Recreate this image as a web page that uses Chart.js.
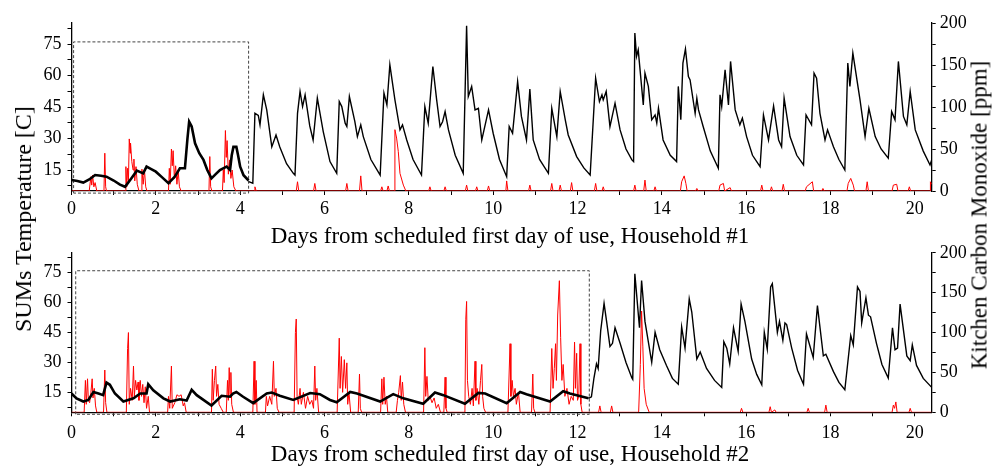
<!DOCTYPE html>
<html>
<head>
<meta charset="utf-8">
<script src="https://cdn.jsdelivr.net/npm/chart.js@4.4.0/dist/chart.umd.min.js"></script>
<style>
  html, body { margin: 0; padding: 0; background: #fff; }
  #wrap { position: relative; width: 995px; height: 466px; overflow: hidden;
          font-family: "Liberation Serif", "Times New Roman", serif; color: #000; }
  #topChart { position: absolute; left: 0; top: 0; }
  #botChart { position: absolute; left: 0; top: 236px; }
  .title { position: absolute; font-size: 23px; line-height: 1; white-space: nowrap; }
  .xtitle { transform: translate(-50%, -50%); }
  .ytitle { transform: translate(-50%, -50%) rotate(-90deg); }
</style>
</head>
<body>
<div id="wrap">
  <canvas id="topChart" width="995" height="248"></canvas>
  <canvas id="botChart" width="995" height="230"></canvas>
  <div class="title xtitle" style="left:510px; top:235px;">Days from scheduled first day of use, Household #1</div>
  <div class="title xtitle" style="left:510px; top:453px;">Days from scheduled first day of use, Household #2</div>
  <div class="title ytitle" style="left:23px; top:219px; font-size:24px;">SUMs Temperature [C]</div>
  <div class="title ytitle" style="left:979px; top:215px;">Kitchen Carbon Monoxide [ppm]</div>
</div>
<script>
"use strict";

// Axis ticks
const dayTicks = [0, 1, 2, 3, 4, 5, 6, 7, 8, 9, 10, 11, 12, 13, 14, 15, 16, 17, 18, 19, 20];
const tempTicks = [7.5, 15, 22.5, 30, 37.5, 45, 52.5, 60, 67.5, 75, 82.5];
const coTicks = [0, 25, 50, 75, 100, 125, 150, 175, 200];

// Period before the scheduled first use (dashed boxes)
const h1BoxDays = [0.05, 4.2];
const h2BoxDays = [0.1, 12.28];
const boxTemp = [4, 76];

// Household #1 - SUMs temperature, before first use (thick)
const h1PreDays = [0, 0.14, 0.28, 0.42, 0.56, 0.7, 0.83, 1.0, 1.15, 1.27, 1.4, 1.55, 1.7, 1.78, 1.88, 2.0,
  2.15, 2.3, 2.45, 2.57, 2.69, 2.75, 2.79, 2.85, 2.93, 3.03, 3.13, 3.22, 3.32, 3.42, 3.52, 3.68, 3.76,
  3.8, 3.84, 3.91, 3.95, 4.0, 4.08, 4.2];
const h1PreTemp = [10.2, 9.8, 9, 10.5, 12.6, 12.3, 11.8, 10, 8, 7, 10.5, 14.7, 13.4, 16.6, 15.5, 14.2,
  11.5, 8.7, 11.8, 15.8, 15.8, 30, 38, 35.7, 27.7, 23, 19.8, 15, 11, 13, 15, 16.6, 15,
  22, 26, 26, 22, 16.6, 12.5, 10];

// Household #1 - SUMs temperature, after first use
const h1UseDays = [4.2, 4.3, 4.35, 4.43, 4.47, 4.55, 4.63, 4.75, 4.85, 4.94, 5.1, 5.26, 5.3, 5.36, 5.42, 5.48,
  5.54, 5.65, 5.73, 5.83, 5.97, 6.13, 6.29, 6.35, 6.41, 6.49, 6.53, 6.59, 6.72, 6.78, 6.86, 6.92, 7.1,
  7.32, 7.41, 7.48, 7.55, 7.67, 7.79, 7.85, 7.95, 8.1, 8.3, 8.38, 8.46, 8.57, 8.66, 8.74, 8.8, 8.86,
  8.94, 9.1, 9.29, 9.37, 9.41, 9.49, 9.57, 9.65, 9.73, 9.89, 10.0, 10.15, 10.32, 10.38, 10.46, 10.58,
  10.67, 10.79, 10.87, 10.95, 11.1, 11.31, 11.39, 11.51, 11.59, 11.71, 11.78, 11.98, 12.15, 12.3,
  12.43, 12.52, 12.58, 12.61, 12.68, 12.77, 12.89, 13.01, 13.15, 13.29, 13.33, 13.36, 13.4, 13.44,
  13.56, 13.6, 13.68, 13.76, 13.84, 13.88, 13.92, 14.03, 14.2, 14.35, 14.39, 14.45, 14.5, 14.56,
  14.63, 14.67, 14.79, 14.83, 14.87, 14.98, 15.15, 15.34, 15.38, 15.42, 15.5, 15.58, 15.63, 15.74,
  15.85, 15.91, 16.01, 16.15, 16.33, 16.41, 16.53, 16.65, 16.77, 16.84, 16.9, 17.04, 17.2, 17.36,
  17.42, 17.55, 17.61, 17.67, 17.75, 17.87, 17.93, 18.07, 18.2, 18.34, 18.41, 18.46, 18.53, 18.7,
  18.82, 18.91, 19.06, 19.2, 19.37, 19.45, 19.53, 19.61, 19.73, 19.81, 19.89, 20.01, 20.2, 20.36, 20.4];
const h1UseTemp = [9.5, 8.7, 42, 41, 36.5, 50.8, 43.6, 26, 31.7, 26, 18, 13.4, 12.6, 42, 52.4, 45.2,
  50.8, 36, 29.3, 49.2, 33.3, 19, 13.4, 47.6, 45.2, 37.3, 35.7, 50, 38, 30.9, 36.5, 30.9, 20,
  12.6, 51.6, 46, 65.1, 48.4, 34.1, 36.5, 29.3, 20, 12.6, 45.2, 37.3, 64.3, 48.4, 35.7, 38, 42.8,
  34.1, 22, 13.4, 83.7, 50, 54.8, 43.6, 44.4, 29.3, 43.6, 32.5, 20, 11.8, 35.7, 32.5, 57.1,
  40.5, 29.3, 53.5, 29.3, 20, 13.4, 44.4, 30.9, 52.4, 38.9, 31.7, 21.4, 16, 12.6,
  58.7, 47.6, 50.8, 48.4, 52.4, 35.7, 46.8, 34.1, 25, 19.8, 19, 80.2, 69.1, 72.2,
  46, 61.1, 54.8, 38.9, 41.2, 37.3, 44.4, 29.3, 22, 19, 54.8, 38.9, 65.9, 72.6,
  59.5, 57.9, 42, 49.2, 43.6, 35.7, 24, 15.8, 50.8, 45.2, 62.7, 46, 66.7, 43.6,
  36.5, 39.7, 30.9, 22, 16.6, 41.2, 29.3, 45.5, 29.3, 26.1, 49.2, 30.9, 22, 17.4,
  41.2, 36.5, 61.1, 58.7, 42, 29.3, 34.1, 26.1, 20, 15, 65.9, 54.8, 70.7, 48.4,
  30.9, 44.4, 30.9, 25, 20.6, 42.8, 38.9, 66.7, 40.5, 36.5, 52.4, 34.1, 24, 17.4, 19.8];

// Household #1 - kitchen CO [ppm]
const h1CoDays = [0, 0.42, 0.46, 0.48, 0.5, 0.53, 0.56, 0.6, 0.77, 0.79, 0.81, 0.83, 1.27, 1.29, 1.31,
  1.33, 1.35, 1.37, 1.39, 1.4, 1.43, 1.46, 1.48, 1.5, 1.53, 1.56, 1.6, 1.65, 1.67, 1.7, 1.73, 1.76, 1.79,
  2.3, 2.32, 2.34, 2.37, 2.39, 2.41, 2.44, 2.47, 2.5, 2.53, 2.56, 2.6, 3.26, 3.28, 3.3, 3.33, 3.58, 3.6,
  3.62, 3.65, 3.67, 3.69, 3.72, 3.75, 3.78, 3.81, 3.85, 3.9, 4.33, 4.35, 4.38, 5.33, 5.36, 5.39,
  5.74, 5.77, 5.8, 6.5, 6.53, 6.56, 6.83, 6.86, 6.89, 7.33, 7.36, 7.39, 7.48, 7.51, 7.54, 7.65, 7.67,
  7.71, 7.75, 7.79, 7.87, 7.93, 8.47, 8.5, 8.53, 8.83, 8.86, 8.89, 9.34, 9.37, 9.4, 9.58, 9.61, 9.64,
  9.86, 9.89, 9.92, 10.3, 10.32, 10.35, 10.84, 10.87, 10.9, 11.36, 11.39, 11.42, 11.56, 11.59, 11.62,
  11.83, 11.86, 11.89, 12.4, 12.43, 12.46, 12.58, 12.61, 12.64, 13.33, 13.36, 13.39, 13.57, 13.6,
  13.63, 13.81, 13.84, 13.87, 14.44, 14.47, 14.53, 14.57, 14.6, 14.8, 14.83, 14.86, 15.35, 15.38,
  15.46, 15.49, 15.62, 15.65, 16.34, 16.37, 16.4, 16.57, 16.6, 16.63, 16.85, 16.88, 16.91, 17.4,
  17.43, 17.57, 17.6, 17.79, 17.82, 17.85, 18.39, 18.42, 18.48, 18.54, 18.57, 18.84, 18.87, 18.9,
  19.46, 19.49, 19.57, 19.6, 19.84, 19.87, 19.9, 20.36, 20.37, 20.4];
const h1CoVals = [0, 0, 17, 7, 19, 5, 10, 0, 0, 45, 5, 0, 0, 29, 5,
  27, 12, 62, 45, 57, 35, 25, 38, 12, 29, 8, 0, 0, 26, 8, 25, 5, 0,
  0, 27, 8, 50, 30, 48, 15, 30, 8, 24, 5, 0, 0, 41, 5, 0, 0, 25,
  10, 72, 40, 60, 20, 37, 15, 25, 5, 0, 0, 5, 0, 0, 11, 0,
  0, 9, 0, 0, 9, 0, 0, 18, 0, 0, 5, 0, 0, 6, 0, 0, 73,
  63, 47, 21, 7, 0, 0, 5, 0, 0, 5, 0, 0, 7, 0, 0, 5, 0,
  0, 6, 0, 0, 12, 0, 0, 7, 0, 0, 9, 0, 0, 7, 0,
  0, 10, 0, 0, 9, 0, 0, 5, 0, 0, 7, 0, 0, 13,
  0, 0, 5, 0, 0, 11, 18, 9, 0, 0, 3, 0, 0, 7,
  9, 0, 4, 0, 0, 7, 0, 0, 5, 0, 0, 8, 0, 0,
  5, 11, 0, 0, 3, 0, 0, 9, 15, 7, 0, 0, 11, 0,
  0, 7, 8, 0, 0, 5, 0, 0, 11, 8];

// Household #2 - SUMs temperature, before first use (thick)
const h2PreDays = [0, 0.12, 0.28, 0.4, 0.52, 0.64, 0.75, 0.83, 0.91, 1.03, 1.23, 1.47, 1.63, 1.78, 1.82,
  1.94, 2.18, 2.34, 2.57, 2.73, 2.85, 2.97, 3.32, 3.56, 3.76, 3.83, 3.91, 4.07, 4.31, 4.63, 4.75, 4.94,
  5.26, 5.66, 5.89, 6.13, 6.29, 6.61, 6.77, 7.32, 7.63, 7.87, 8.34, 8.62, 8.82, 9.33, 9.65, 9.81,
  10.32, 10.64, 10.79, 11.35, 11.66, 11.82, 12.26];
const h2PreTemp = [14.4, 12, 10.4, 11.2, 15.2, 14.4, 13.6, 19.9, 18.8, 14.4, 10.4, 12, 14.4, 14.4, 19.1,
  16, 12, 10.4, 11.5, 10.9, 16.3, 13.6, 8.4, 13.3, 12.8, 14.4, 15.2, 12.8, 9.6, 14.4, 14.9, 13.3,
  11.2, 14.7, 14.1, 11.2, 10, 15.2, 14.4, 10.4, 14.1, 12, 9.3, 14.9, 13.6, 9.3, 14.7, 14.4,
  9.6, 15.2, 14.1, 10.4, 15.6, 14.4, 12];

// Household #2 - SUMs temperature, after first use
const h2UseDays = [12.26, 12.33, 12.39, 12.45, 12.49, 12.55, 12.63, 12.69, 12.77, 12.83, 12.89, 13.01,
  13.15, 13.29, 13.31, 13.36, 13.47, 13.52, 13.6, 13.76, 13.84, 13.95, 14.11, 14.25, 14.39, 14.47,
  14.55, 14.65, 14.71, 14.83, 14.91, 15.06, 15.25, 15.42, 15.47, 15.54, 15.61, 15.7, 15.81, 15.88,
  15.97, 16.13, 16.25, 16.37, 16.43, 16.5, 16.58, 16.62, 16.74, 16.79, 16.87, 16.92, 16.96, 17.08,
  17.22, 17.36, 17.43, 17.59, 17.69, 17.83, 17.89, 18.07, 18.2, 18.34, 18.48, 18.54, 18.64, 18.7,
  18.74, 18.84, 18.9, 18.95, 19.09, 19.22, 19.37, 19.47, 19.53, 19.59, 19.65, 19.81, 19.89, 19.94,
  20.04, 20.2, 20.4];
const h2UseTemp = [12, 12.8, 22.2, 29.3, 26.9, 45.9, 59.6, 50.6, 38, 39.6, 47.4, 39.6,
  30, 22.2, 21.5, 74.5, 47.4, 71.1, 50.6, 30.1, 45.1, 36.4, 28.5, 22, 19.1, 47.8,
  37.2, 61.9, 55.3, 31.7, 35.2, 27, 21, 17.5, 40.4, 37.2, 29.3, 47.4, 35.6, 59.3,
  50.6, 31.7, 24, 18.8, 45.1, 36.7, 67.9, 69.5, 45.1, 50.6, 41.1, 49.8, 49, 37.2,
  26, 19.1, 44.3, 32.5, 58.5, 33.3, 34.1, 25.4, 20, 16.3, 43.5, 38.8, 67.9, 65.6,
  49.8, 62.4, 53.7, 52.9, 39.6, 29, 22.2, 47.4, 36.4, 37.2, 59.3, 33.3, 30.9, 38.8,
  28.5, 22, 17.5];

// Household #2 - kitchen CO [ppm]
const h2CoDays = [0, 0.3, 0.33, 0.35, 0.38, 0.4, 0.43, 0.46, 0.49, 0.51, 0.54, 0.57, 0.6, 0.76, 0.79, 0.81,
  0.84, 1.3, 1.33, 1.35, 1.37, 1.4, 1.44, 1.47, 1.49, 1.52, 1.55, 1.58, 1.6, 1.63, 1.66, 1.69, 1.72,
  1.75, 1.78, 1.82, 1.85, 2.28, 2.3, 2.33, 2.37, 2.39, 2.45, 2.5, 2.55, 2.6, 2.65, 2.68, 2.72, 3.32,
  3.34, 3.36, 3.39, 3.42, 3.44, 3.47, 3.5, 3.55, 3.6, 3.67, 3.7, 3.72, 3.74, 3.76, 3.78, 3.8, 3.84,
  4.3, 4.33, 4.35, 4.38, 4.4, 4.6, 4.62, 4.65, 4.7, 4.75, 4.79, 4.81, 4.85, 4.88, 4.92, 5.28, 5.31,
  5.33, 5.35, 5.38, 5.42, 5.45, 5.5, 5.55, 5.6, 5.65, 5.7, 5.74, 5.77, 5.79, 5.82, 5.86, 6.3, 6.35,
  6.37, 6.4, 6.43, 6.47, 6.5, 6.53, 6.55, 6.58, 6.62, 6.8, 6.83, 6.85, 6.88, 7.33, 7.36, 7.38, 7.41,
  7.44, 7.47, 7.5, 7.7, 7.73, 7.76, 7.8, 7.82, 7.85, 7.88, 7.92, 8.35, 8.38, 8.4, 8.43, 8.46, 8.5,
  8.55, 8.6, 8.65, 8.7, 8.75, 8.83, 8.86, 8.88, 8.91, 9.33, 9.35, 9.37, 9.39, 9.42, 9.46, 9.5, 9.53,
  9.57, 9.59, 9.62, 9.66, 9.7, 9.73, 9.75, 9.78, 9.82, 10.35, 10.4, 10.42, 10.45, 10.48, 10.52, 10.55,
  10.6, 10.64, 10.91, 10.94, 10.96, 10.99, 11.35, 11.39, 11.42, 11.45, 11.48, 11.5, 11.53, 11.57,
  11.6, 11.63, 11.66, 11.7, 11.75, 11.8, 11.85, 11.9, 11.93, 11.95, 11.98, 12.0, 12.03, 12.06, 12.08,
  12.11, 12.5, 12.53, 12.56, 12.78, 12.81, 12.84, 13.45, 13.49, 13.52, 13.55, 13.58, 13.63, 13.7,
  15.86, 15.89, 15.92, 16.54, 16.57, 16.6, 16.68, 16.71, 17.44, 17.47, 17.5, 17.86, 17.89, 17.92,
  19.46, 19.49, 19.52, 19.55, 19.58, 19.86, 19.89, 19.92, 20.4];
const h2CoVals = [0, 0, 40, 10, 42, 15, 12, 25, 42, 18, 30, 8, 0, 0, 53, 12,
  0, 0, 80, 100, 10, 30, 15, 58, 20, 40, 28, 38, 15, 40, 20, 35, 12,
  32, 5, 20, 0, 0, 20, 5, 58, 5, 12, 22, 20, 22, 8, 12, 0, 0,
  54, 15, 40, 58, 20, 35, 10, 5, 0, 0, 40, 15, 56, 20, 50, 10, 0,
  0, 64, 10, 40, 0, 0, 20, 8, 20, 10, 64, 20, 30, 5, 0, 0, 100,
  117, 20, 10, 30, 10, 25, 5, 20, 10, 15, 5, 58, 15, 30, 0, 0, 93,
  30, 70, 25, 66, 30, 62, 10, 25, 0, 0, 48, 5, 0, 0, 42, 10, 44,
  10, 20, 0, 0, 15, 25, 46, 15, 38, 10, 0, 0, 81, 20, 45, 15, 20,
  12, 18, 5, 10, 0, 0, 44, 5, 0, 0, 116, 139, 40, 20, 10, 30, 8,
  64, 15, 30, 10, 40, 60, 20, 5, 0, 0, 86, 20, 40, 20, 30, 10,
  25, 0, 0, 48, 5, 0, 0, 80, 30, 55, 86, 40, 122, 165,
  94, 40, 60, 20, 30, 10, 20, 15, 88, 30, 74, 15, 20, 86, 10,
  0, 0, 8, 0, 0, 8, 0, 0, 60, 127, 82, 30, 10, 0,
  0, 5, 0, 0, 7, 0, 3, 0, 0, 5, 0, 0, 9, 0,
  0, 9, 5, 13, 0, 0, 5, 0, 0];

const serif = "'Liberation Serif', 'Times New Roman', serif";

function pts(days, vals) {
  return days.map((d, i) => ({ x: d, y: vals[i] }));
}

function boxPts(days) {
  return [
    { x: days[0], y: boxTemp[0] }, { x: days[0], y: boxTemp[1] },
    { x: days[1], y: boxTemp[1] }, { x: days[1], y: boxTemp[0] },
    { x: days[0], y: boxTemp[0] }
  ];
}

function datasets(preDays, preTemp, useDays, useTemp, coDays, coVals, boxDays) {
  return [
    { data: pts(preDays, preTemp), yAxisID: 'yT', borderColor: '#000', borderWidth: 2.6, order: 1 },
    { data: pts(useDays, useTemp), yAxisID: 'yT', borderColor: '#000', borderWidth: 1.4, order: 1 },
    { data: pts(coDays, coVals), yAxisID: 'yC', borderColor: '#ff0000', borderWidth: 1, order: 2 },
    { data: boxPts(boxDays), yAxisID: 'yT', borderColor: '#444', borderWidth: 1,
      borderDash: [3, 2], clip: false, order: 3 }
  ];
}

function panelOptions(topPad, xHeight, xPad) {
  const tickFont = { family: serif, size: 18 };
  return {
    responsive: false,
    animation: false,
    layout: { padding: { top: topPad, left: 0, right: 0, bottom: 0 } },
    plugins: { legend: { display: false }, tooltip: { enabled: false } },
    elements: { point: { radius: 0 }, line: { tension: 0 } },
    scales: {
      x: {
        type: 'linear', min: 0, max: 20.4,
        afterBuildTicks: ax => { ax.ticks = dayTicks.map(v => ({ value: v })); },
        afterFit: ax => { ax.height = xHeight; },
        ticks: { autoSkip: false, maxRotation: 0, padding: xPad, color: '#000', font: tickFont,
                 callback: v => (v % 2 === 0 ? String(v) : '') },
        grid: { drawOnChartArea: false, tickLength: 4, tickColor: '#000' },
        border: { color: '#000', width: 1.3 }
      },
      yT: {
        type: 'linear', position: 'left', min: 5, max: 85,
        afterBuildTicks: ax => { ax.ticks = tempTicks.map(v => ({ value: v })); },
        afterFit: ax => { ax.width = 71.5; },
        ticks: { autoSkip: false, padding: 6, color: '#000', font: tickFont,
                 callback: v => (v % 15 === 0 ? String(v) : '') },
        grid: { drawOnChartArea: false, tickLength: 4, tickColor: '#000' },
        border: { color: '#000', width: 1.3 }
      },
      yC: {
        type: 'linear', position: 'right', min: 0, max: 200,
        afterBuildTicks: ax => { ax.ticks = coTicks.map(v => ({ value: v })); },
        afterFit: ax => { ax.width = 63.3; },
        ticks: { autoSkip: false, padding: 4, color: '#000', font: tickFont,
                 callback: v => (v % 50 === 0 ? String(v) : '') },
        grid: { drawOnChartArea: false, tickLength: 4, tickColor: '#000' },
        border: { color: '#000', width: 1.3 }
      }
    }
  };
}

new Chart(document.getElementById('topChart'), {
  type: 'line',
  data: { datasets: datasets(h1PreDays, h1PreTemp, h1UseDays, h1UseTemp, h1CoDays, h1CoVals, h1BoxDays) },
  options: panelOptions(23, 57, 3)
});

new Chart(document.getElementById('botChart'), {
  type: 'line',
  data: { datasets: datasets(h2PreDays, h2PreTemp, h2UseDays, h2UseTemp, h2CoDays, h2CoVals, h2BoxDays) },
  options: panelOptions(8, 53.7, 6)
});
</script>
</body>
</html>
